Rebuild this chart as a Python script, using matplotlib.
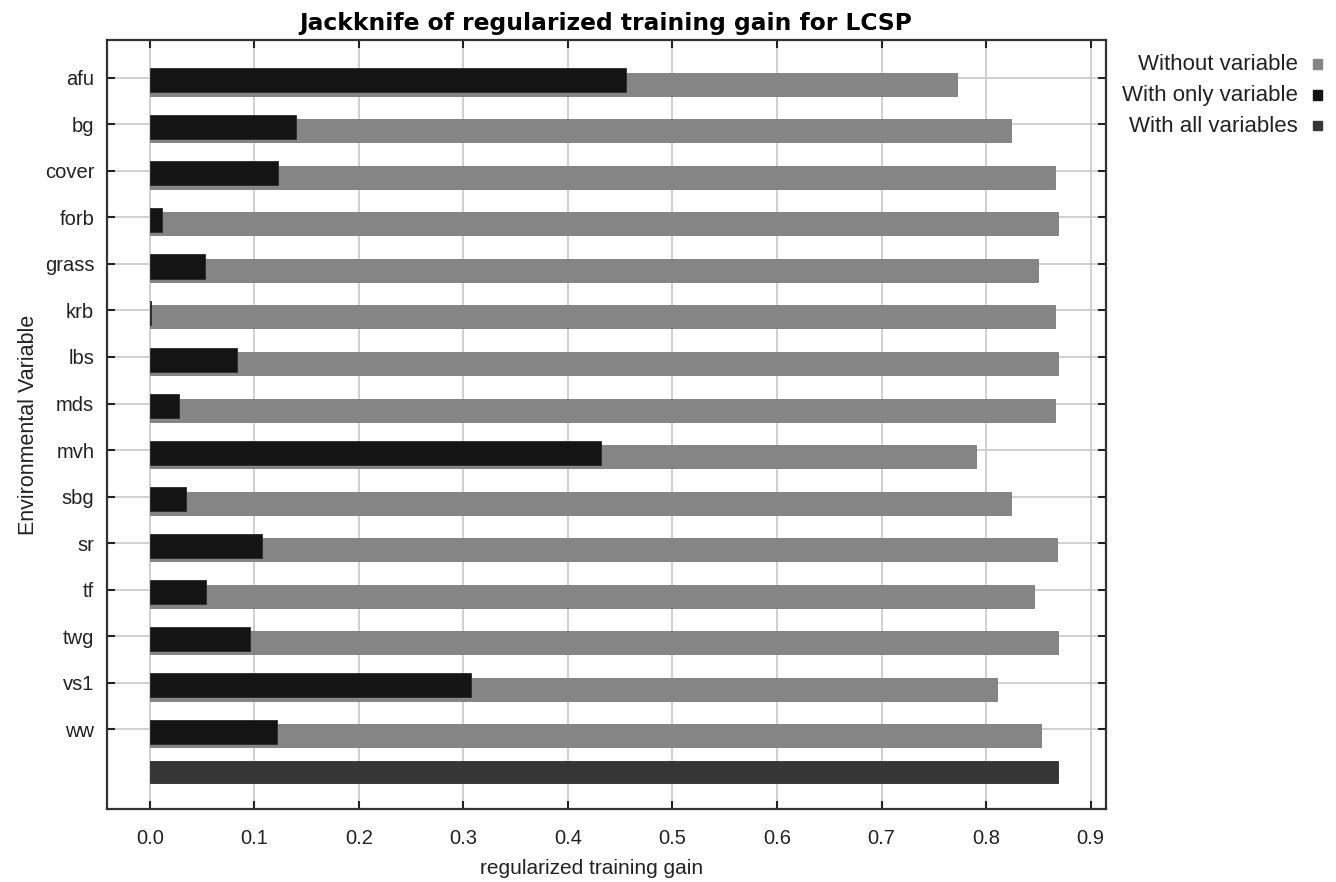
import matplotlib.pyplot as plt
from matplotlib.patches import Rectangle

plt.rcParams['font.family'] = ['Liberation Sans', 'DejaVu Sans']

variables = ["afu", "bg", "cover", "forb", "grass", "krb", "lbs", "mds",
             "mvh", "sbg", "sr", "tf", "twg", "vs1", "ww"]
without_var = [0.772, 0.824, 0.866, 0.869, 0.850, 0.866, 0.869, 0.866,
               0.790, 0.824, 0.868, 0.846, 0.869, 0.810, 0.852]
only_var = [0.456, 0.140, 0.123, 0.0115, 0.0526, 0.001, 0.083, 0.028,
            0.432, 0.035, 0.107, 0.0535, 0.0956, 0.3075, 0.122]
all_vars = 0.869
x_ticks = [0.0, 0.1, 0.2, 0.3, 0.4, 0.5, 0.6, 0.7, 0.8, 0.9]

c_without = "#858585"
c_only = "#141414"
c_all = "#363636"

fig = plt.figure(figsize=(13.36, 8.82), dpi=100)
ax = fig.add_axes([0.0799, 0.0824, 0.7477, 0.8722])

rows = list(range(len(variables)))
ax.barh([r + 0.14 for r in rows], without_var, height=0.494, color=c_without,
        edgecolor="#7a7a7a", linewidth=0.6, zorder=2)
ax.barh([r + 0.056 for r in rows], only_var, height=0.516, color=c_only,
        edgecolor="#2a2a2a", linewidth=0.6, zorder=3)
ax.barh([len(variables) - 0.08], [all_vars], height=0.48, color=c_all,
        edgecolor="#2e2e2e", linewidth=0.6, zorder=3)

ax.set_xlim(-0.0411, 0.9143)
ax.set_ylim(15.72, -0.81)
ax.set_yticks(rows)
ax.set_yticklabels(variables)
ax.set_xticks(x_ticks)
ax.set_xticklabels(["%.1f" % v for v in x_ticks])

ax.grid(True, color="#c8c8c8", linewidth=1.2, zorder=0)
ax.set_axisbelow(True)
ax.tick_params(direction="in", length=6, width=1.5, color="#222222",
               labelsize=14.5, top=True, right=True, labelcolor="#222222")
ax.tick_params(axis="x", pad=14)
ax.tick_params(axis="y", pad=9)
for s in ax.spines.values():
    s.set_color("#333333")
    s.set_linewidth(1.6)

ax.set_title("Jackknife of regularized training gain for LCSP",
             fontsize=16.8, fontweight="bold", family="DejaVu Sans", pad=7)
ax.set_xlabel("regularized training gain", fontsize=15, color="#222222", labelpad=8)
ax.xaxis.set_label_coords(0.485, -0.065)
ax.set_ylabel("Environmental Variable", fontsize=15.5, color="#222222", labelpad=4)

# legend on the right, text right-aligned with square swatch after it
legend_items = [("Without variable", c_without), ("With only variable", c_only),
                ("With all variables", c_all)]
for k, (label, col) in enumerate(legend_items):
    yy = 1 - (64 + 31 * k) / 882
    fig.text(1298 / 1336, yy, label, ha="right", va="center", fontsize=16,
             color="#222222")
    fig.patches.append(Rectangle((1313 / 1336, yy - 4.5 / 882), 9 / 1336, 9 / 882,
                                 transform=fig.transFigure, color=col))

fig.savefig("out.png", dpi=100)
